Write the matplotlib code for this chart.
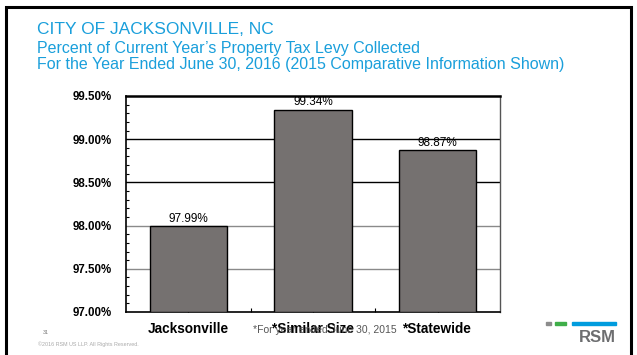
import matplotlib.pyplot as plt
from matplotlib.patches import Rectangle
from matplotlib.ticker import MultipleLocator, FuncFormatter

plt.rcParams['font.family'] = ['Liberation Sans', 'DejaVu Sans']

# données
categories = ["Jacksonville", "*Similar Size", "*Statewide"]
taux = [97.99, 99.34, 98.87]
etiquettes = ["97.99%", "99.34%", "98.87%"]
graduations = [97.0, 97.5, 98.0, 98.5, 99.0, 99.5]

bleu = "#1a9fdb"

fig = plt.figure(figsize=(6.37, 3.55), dpi=100)

# cadre noir de la diapo
fig.patches.append(Rectangle((6 / 637, -0.05), 625 / 637, 1.05 - 7 / 355,
                             transform=fig.transFigure, fill=False,
                             edgecolor="black", linewidth=2.2))

# titres
fig.text(37 / 637, 1 - 30 / 355, "CITY OF JACKSONVILLE, NC", color=bleu,
         fontsize=12.5, va="center")
fig.text(37 / 637, 1 - 48 / 355, "Percent of Current Year\u2019s Property Tax Levy Collected",
         color=bleu, fontsize=11.5, va="center")
fig.text(37 / 637, 1 - 64 / 355,
         "For the Year Ended June 30, 2016 (2015 Comparative Information Shown)",
         color=bleu, fontsize=11.5, va="center")

ax = fig.add_axes([126 / 637, 1 - 312 / 355, 374 / 637, 216 / 355])

x = range(len(categories))
ax.bar(x, [t - 97.0 for t in taux], bottom=97.0, width=0.62,
       color="#757170", edgecolor="black", linewidth=1.0, zorder=3)

for i, t in enumerate(taux):
    ax.annotate(etiquettes[i], (i, t), xytext=(0, 1), textcoords="offset points",
                ha="center", va="bottom", fontsize=8.5, zorder=4)

# lignes de grille
couleurs_grille = {97.5: "#8a8a8a", 98.0: "#8a8a8a", 98.5: "black", 99.0: "black"}
for niveau, c in couleurs_grille.items():
    ax.axhline(niveau, color=c, linewidth=1.0, zorder=1)

ax.set_xlim(-0.5, 2.5)
ax.set_ylim(97.0, 99.5)
ax.set_yticks(graduations)
ax.yaxis.set_minor_locator(MultipleLocator(0.1))
ax.yaxis.set_major_formatter(FuncFormatter(lambda v, p: f"{v:.2f}%"))
ax.tick_params(axis="y", which="major", length=0, pad=10, labelsize=8.3)
ax.tick_params(axis="y", which="minor", direction="in", length=2.5, width=0.8)
for lab in ax.get_yticklabels():
    lab.set_fontweight("bold")

ax.set_xticks(list(x))
ax.set_xticks([0.5, 1.5], minor=True)
ax.set_xticklabels(categories, fontsize=9.8, fontweight="bold")
ax.tick_params(axis="x", which="both", direction="in", length=3, width=0.8, pad=7)

ax.spines["top"].set_linewidth(1.8)
ax.spines["left"].set_linewidth(1.2)
ax.spines["bottom"].set_linewidth(1.2)
ax.spines["right"].set_color("#555555")
ax.spines["right"].set_linewidth(1.0)

# note de bas de page
fig.text(253 / 637, 1 - 330 / 355, "*For year ended June 30, 2015", color="#555555",
         fontsize=7.5, va="center")
fig.text(43 / 637, 1 - 333 / 355, "31", color="#777777", fontsize=3.8, va="center")
fig.text(38 / 637, 1 - 344 / 355, "\u00a92016 RSM US LLP. All Rights Reserved.",
         color="#aaaaaa", fontsize=3.9, va="center")

# logo RSM
fig.patches.append(Rectangle((546 / 637, 1 - 325 / 355), 5 / 637, 3 / 355,
                             transform=fig.transFigure, color="#8c8c8c"))
fig.patches.append(Rectangle((555 / 637, 1 - 325 / 355), 11 / 637, 3 / 355,
                             transform=fig.transFigure, color="#3fae49"))
fig.patches.append(Rectangle((572 / 637, 1 - 325 / 355), 44 / 637, 3 / 355,
                             transform=fig.transFigure, color="#009cde"))
fig.text(616 / 637, 1 - 337 / 355, "RSM", color="#6d6e70", fontsize=12,
         fontweight="bold", ha="right", va="center")

fig.savefig("out.png", dpi=100)
